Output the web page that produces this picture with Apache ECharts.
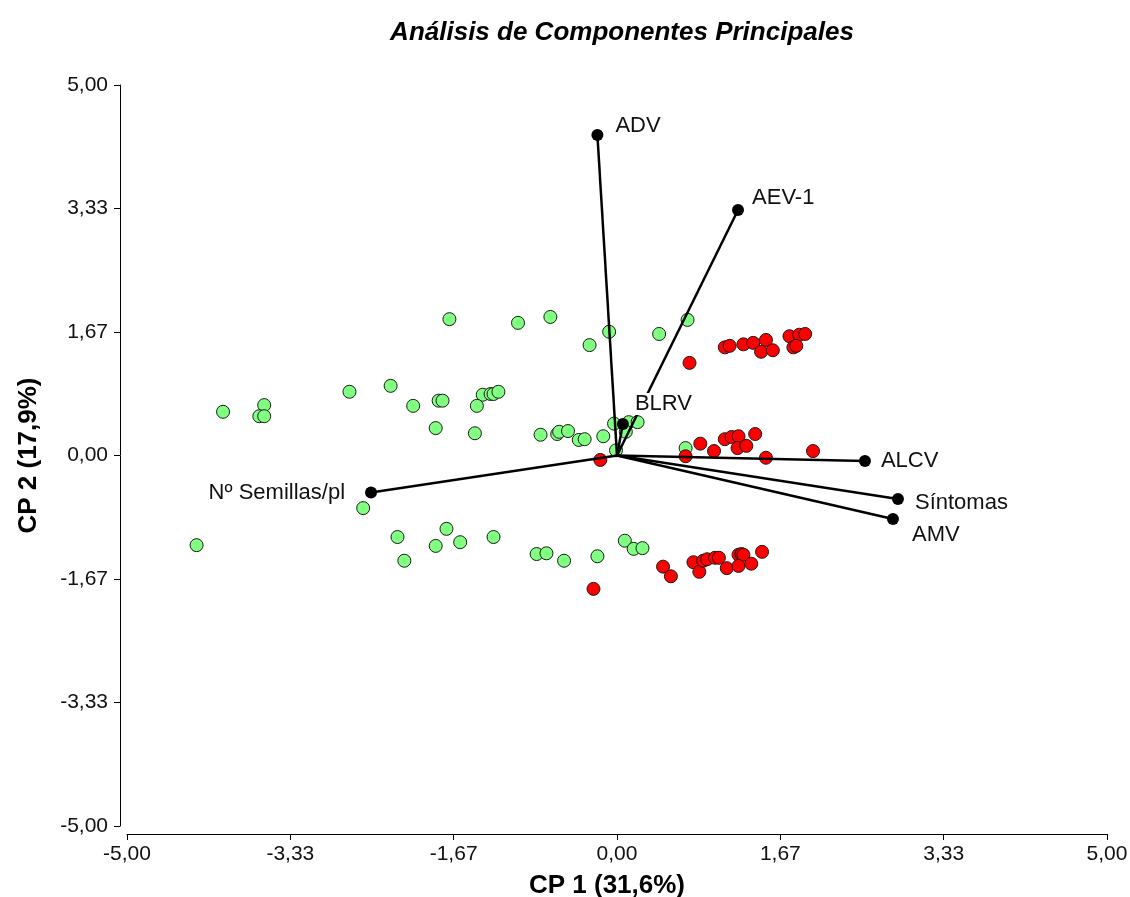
<!DOCTYPE html>
<html>
<head>
<meta charset="utf-8">
<script src="https://cdn.jsdelivr.net/npm/echarts@6/dist/echarts.min.js"></script>
<style>
  html, body { margin: 0; padding: 0; background: #fff; }
</style>
</head>
<body>
<div id="chart" style="width: 1130px; height: 897px;"></div>
<script>
// ticks of both axes
const axisTicks = [-5, -3.333, -1.667, 0, 1.667, 3.333, 5]

// green group (CP1, CP2)
const greenX = [-4.29, -4.02, -3.60, -3.65, -3.60, -2.73, -2.31, -2.08, -2.59, -2.24,
  -2.17, -1.85, -1.74, -1.60, -1.71, -1.01, -0.68, -0.08, -0.28, -1.82,
  -1.78, -1.37, -1.29, -1.26, -1.21, -1.43, -1.85, -1.45, -0.78, -0.61,
  -0.59, -0.50, -0.39, -0.33, -0.14, -0.03, 0.12, 0.21, -0.01, 0.72,
  0.43, 0.70, -1.26, -0.82, -0.72, -0.54, -0.20, 0.08, 0.17, 0.26, 0.09]
const greenY = [-1.21, 0.59, 0.68, 0.53, 0.53, 0.86, 0.94, 0.67, -0.71, -1.10,
  -1.42, -1.22, -0.99, -1.17, 1.84, 1.79, 1.87, 1.67, 1.49, 0.74,
  0.74, 0.82, 0.83, 0.83, 0.86, 0.67, 0.37, 0.30, 0.28, 0.29,
  0.32, 0.33, 0.21, 0.22, 0.26, 0.43, 0.45, 0.45, 0.07, 1.83,
  1.64, 0.10, -1.10, -1.33, -1.32, -1.42, -1.36, -1.15, -1.26, -1.25, 0.32]

// red group (CP1, CP2)
const redX = [-0.17, 0.74, 1.10, 1.15, 1.29, 1.39, 1.52, 1.47, 1.59, 1.76,
  1.86, 1.92, 1.80, 1.83, 0.70, 0.85, 0.99, 1.10, 1.17, 1.24,
  1.23, 1.32, 1.41, 1.52, 2.00, -0.24, 0.47, 0.55, 0.78, 0.84,
  0.88, 0.92, 1.00, 1.04, 1.12, 1.24, 1.27, 1.29, 1.24, 1.37, 1.48]
const redY = [-0.06, 1.25, 1.46, 1.48, 1.50, 1.52, 1.56, 1.40, 1.42, 1.61,
  1.63, 1.64, 1.46, 1.48, -0.01, 0.16, 0.06, 0.22, 0.25, 0.26,
  0.10, 0.13, 0.29, -0.03, 0.06, -1.80, -1.50, -1.63, -1.44, -1.57,
  -1.42, -1.40, -1.38, -1.38, -1.52, -1.34, -1.33, -1.34, -1.49, -1.46, -1.30]

// variable vectors
const vecNames = ['ADV', 'AEV-1', 'BLRV', 'ALCV', 'Síntomas', 'AMV', 'Nº Semillas/pl']
const vecX = [-0.20, 1.235, 0.06, 2.53, 2.867, 2.816, -2.51]
const vecY = [4.325, 3.313, 0.425, -0.074, -0.587, -0.857, -0.50]

// where each vector label sits
const vecLabelStyle = {
  'ADV': { position: 'right', distance: 12, offset: [0, -9] },
  'AEV-1': { position: 'right', distance: 8, offset: [0, -12] },
  'BLRV': { position: 'right', distance: 6, offset: [0, -20], backgroundColor: '#fff' },
  'ALCV': { position: 'right', distance: 10, offset: [0, 0] },
  'Síntomas': { position: 'right', distance: 11, offset: [0, 4] },
  'AMV': { position: 'right', distance: 13, offset: [0, 16] },
  'Nº Semillas/pl': { position: 'left', distance: 20, offset: [0, 0] }
}

const fmt = v => (Math.abs(v) < 1e-9 ? 0 : v).toFixed(2).replace('.', ',')
const zip = (xs, ys) => xs.map((x, i) => [x, ys[i]])

let myChart = echarts.init(document.getElementById('chart'))

let vecLines = vecNames.map((name, i) => ({
  name: name,
  type: 'line',
  data: [[0, 0], [vecX[i], vecY[i]]],
  symbol: 'none',
  lineStyle: { color: '#000', width: 2.5 },
  z: 3,
  silent: true
}))

let axisCommon = {
  type: 'value',
  min: -5,
  max: 5,
  nameLocation: 'middle',
  nameTextStyle: { fontFamily: 'Liberation Sans', fontWeight: 'bold', fontSize: 26, color: '#000' },
  axisLine: { onZero: false, lineStyle: { color: '#000', width: 1 } },
  axisTick: { show: true, length: 6, customValues: axisTicks, lineStyle: { color: '#000' } },
  axisLabel: {
    customValues: axisTicks,
    formatter: fmt,
    fontFamily: 'Liberation Sans',
    fontSize: 21,
    color: '#111'
  },
  splitLine: { show: false }
}

myChart.setOption({
  animation: false,
  title: {
    text: 'Análisis de Componentes Principales',
    left: 617,
    top: 15,
    textAlign: 'center',
    textStyle: { fontFamily: 'Liberation Sans', fontStyle: 'italic', fontWeight: 'bold', fontSize: 26, color: '#000' }
  },
  grid: { left: 127, right: 23, top: 85, bottom: 71, outerBoundsMode: 'none' },
  xAxis: Object.assign({}, axisCommon, {
    name: 'CP 1 (31,6%)',
    nameGap: 39,
    offset: 8,
    nameTextStyle: Object.assign({}, axisCommon.nameTextStyle, { padding: [0, 20, 0, 0] }),
    axisLabel: Object.assign({}, axisCommon.axisLabel, { margin: 10 })
  }),
  yAxis: Object.assign({}, axisCommon, {
    name: 'CP 2 (17,9%)',
    nameGap: 78,
    offset: 7,
    axisLabel: Object.assign({}, axisCommon.axisLabel, { margin: 12 })
  }),
  series: [
    {
      name: 'verde',
      type: 'scatter',
      data: zip(greenX, greenY),
      symbolSize: 13,
      itemStyle: { color: '#80ff80', borderColor: '#1a1a1a', borderWidth: 1, opacity: 1 },
      z: 2
    },
    {
      name: 'rojo',
      type: 'scatter',
      data: zip(redX, redY),
      symbolSize: 13,
      itemStyle: { color: '#ff0000', borderColor: '#1a1a1a', borderWidth: 1, opacity: 1 },
      z: 2
    },
    ...vecLines,
    {
      name: 'variables',
      type: 'scatter',
      data: vecNames.map((name, i) => ({
        name: name,
        value: [vecX[i], vecY[i]],
        label: Object.assign({ show: true, formatter: name }, vecLabelStyle[name])
      })),
      symbolSize: 12,
      itemStyle: { color: '#000', opacity: 1 },
      label: { fontFamily: 'Liberation Sans', fontSize: 22, color: '#111' },
      z: 4
    }
  ]
})
</script>
</body>
</html>
